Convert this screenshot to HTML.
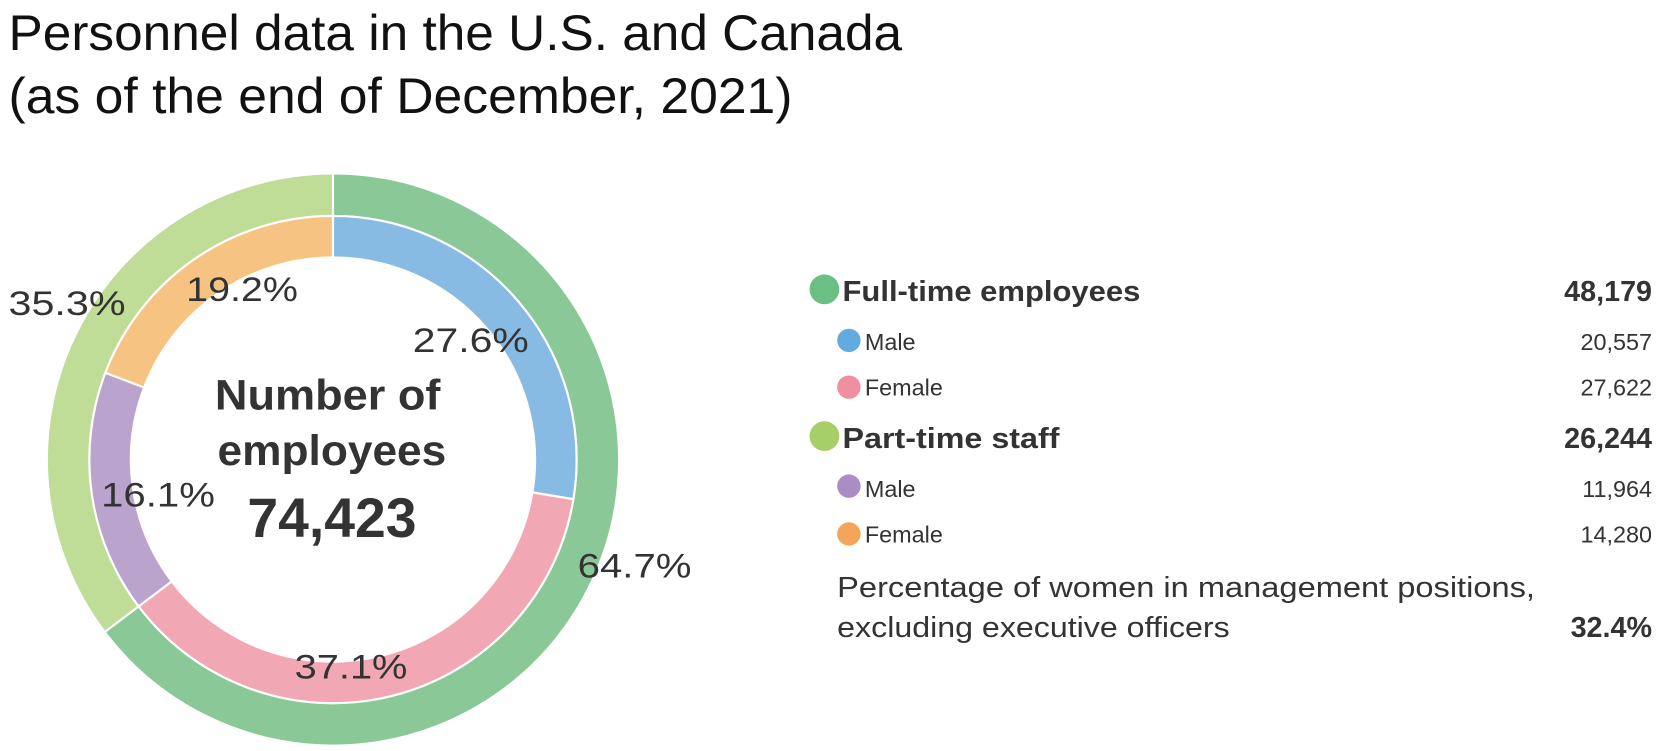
<!DOCTYPE html>
<html><head><meta charset="utf-8"><style>html,body{margin:0;padding:0;background:#fff;}svg{display:block}</style></head>
<body>
<svg id="s" width="1668" height="751" viewBox="0 0 1568 706" xmlns="http://www.w3.org/2000/svg" font-family="Liberation Sans, sans-serif" fill="#333">
<g id="arcs"></g>
<text x="8" y="47" font-size="47" textLength="840" lengthAdjust="spacingAndGlyphs" fill="#111">Personnel data in the U.S. and Canada</text>
<text x="8" y="106" font-size="47" textLength="737" lengthAdjust="spacingAndGlyphs" fill="#111">(as of the end of December, 2021)</text>
<g font-weight="bold" text-anchor="middle" fill="#333">
<text x="308" y="385" font-size="40" textLength="212" lengthAdjust="spacingAndGlyphs">Number of</text>
<text x="312" y="437" font-size="40" textLength="215" lengthAdjust="spacingAndGlyphs">employees</text>
<text x="312" y="505" font-size="52" textLength="159" lengthAdjust="spacingAndGlyphs">74,423</text>
</g>
<g font-size="32" fill="#333">
<text x="8" y="296" textLength="110" lengthAdjust="spacingAndGlyphs">35.3%</text>
<text x="175" y="283" textLength="105" lengthAdjust="spacingAndGlyphs">19.2%</text>
<text x="388" y="331" textLength="109" lengthAdjust="spacingAndGlyphs">27.6%</text>
<text x="543" y="543" textLength="107" lengthAdjust="spacingAndGlyphs">64.7%</text>
<text x="277" y="638" textLength="106" lengthAdjust="spacingAndGlyphs">37.1%</text>
<text x="95" y="476" textLength="107" lengthAdjust="spacingAndGlyphs">16.1%</text>
</g>
<circle cx="775" cy="272" r="14" fill="#6abf85"/>
<circle cx="798" cy="320" r="11" fill="#62aadf"/>
<circle cx="798" cy="364" r="11" fill="#ef8fa0"/>
<circle cx="775" cy="410" r="14" fill="#a6cf6a"/>
<circle cx="798" cy="457" r="11" fill="#ac8cc4"/>
<circle cx="798" cy="502" r="11" fill="#f5a55a"/>
<g font-size="27" font-weight="bold">
<text x="792" y="283" textLength="280" lengthAdjust="spacingAndGlyphs">Full-time employees</text>
<text x="1553" y="283" text-anchor="end">48,179</text>
<text x="792" y="421" textLength="204" lengthAdjust="spacingAndGlyphs">Part-time staff</text>
<text x="1553" y="421" text-anchor="end">26,244</text>
</g>
<g font-size="22">
<text x="813" y="329">Male</text><text x="1553" y="329" text-anchor="end">20,557</text>
<text x="813" y="372">Female</text><text x="1553" y="372" text-anchor="end">27,622</text>
<text x="813" y="467">Male</text><text x="1553" y="467" text-anchor="end">11,964</text>
<text x="813" y="510">Female</text><text x="1553" y="510" text-anchor="end">14,280</text>
</g>
<g font-size="27">
<text x="787" y="561" textLength="656" lengthAdjust="spacingAndGlyphs">Percentage of women in management positions,</text>
<text x="787" y="599" textLength="369" lengthAdjust="spacingAndGlyphs">excluding executive officers</text>
<text x="1553" y="599" text-anchor="end" font-weight="bold">32.4%</text>
</g>
</svg>
<script>
(function(){
var cx=313,cy=432,g=document.getElementById('arcs');
function pt(r,f){var a=f*2*Math.PI;return [cx+r*Math.sin(a),cy-r*Math.cos(a)];}
function seg(r0,r1,f0,f1,c){
 var L=(f1-f0)>0.5?1:0,a=pt(r1,f0),b=pt(r1,f1),d=pt(r0,f1),e=pt(r0,f0);
 var p=document.createElementNS('http://www.w3.org/2000/svg','path');
 p.setAttribute('d','M'+a+' A'+r1+' '+r1+' 0 '+L+' 1 '+b+' L'+d+' A'+r0+' '+r0+' 0 '+L+' 0 '+e+'Z');
 p.setAttribute('fill',c);p.setAttribute('stroke','#fff');p.setAttribute('stroke-width','2');g.appendChild(p);}
seg(229,269,0,0.647,'#8ac997');seg(229,269,0.647,1,'#c0dd98');
var v=[[0.276,'#88bbe4'],[0.371,'#f2a7b4'],[0.161,'#baa3cd'],[0.192,'#f7c383']],s=0;
v.forEach(function(x){seg(190,229,s,s+x[0],x[1]);s+=x[0];});
})();
</script>
</body></html>
